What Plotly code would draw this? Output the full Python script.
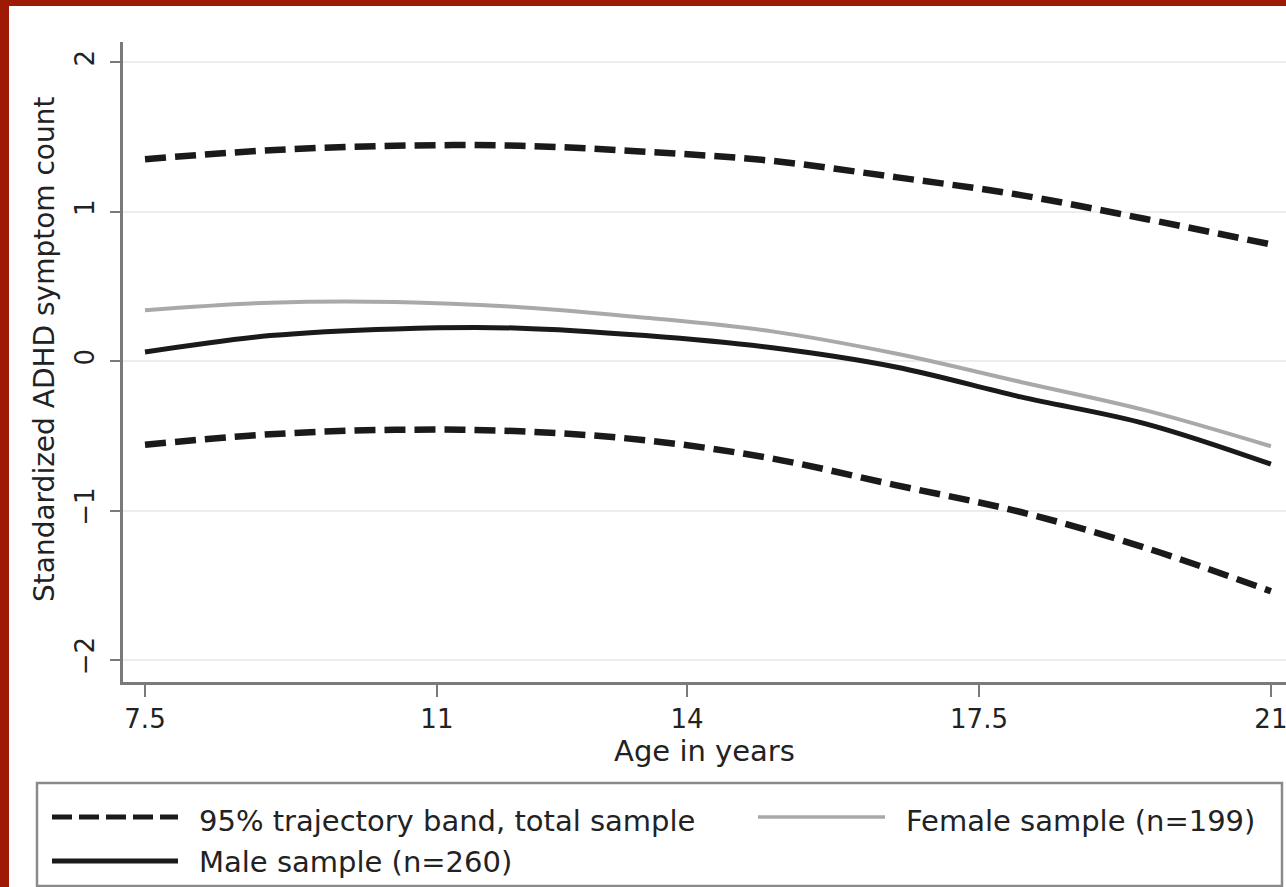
import plotly.graph_objects as go

# Estimated trajectories by age
age = [7.5, 9, 10.5, 12, 13.5, 15, 16.5, 18, 19.5, 21]
band_upper = [1.35, 1.41, 1.44, 1.44, 1.40, 1.34, 1.23, 1.11, 0.95, 0.78]
band_lower = [-0.56, -0.49, -0.46, -0.47, -0.53, -0.65, -0.83, -1.01, -1.25, -1.54]
female = [0.34, 0.39, 0.395, 0.36, 0.29, 0.20, 0.05, -0.14, -0.33, -0.57]
male = [0.06, 0.17, 0.215, 0.22, 0.17, 0.09, -0.04, -0.24, -0.42, -0.69]

x_ticks = [7.5, 11, 14, 17.5, 21]
x_tick_labels = ["7.5", "11", "14", "17.5", "21"]
y_ticks = [-2, -1, 0, 1, 2]
y_tick_labels = ["\u22122", "\u22121", "0", "1", "2"]

legend_labels = ["95% trajectory band, total sample", "Female sample (n=199)", "Male sample (n=260)"]

W, H = 1286, 887
ML, MR, MT, MB = 123, 0, 42, 205
PW, PH = W - ML - MR, H - MT - MB

FONT = "DejaVu Sans"
TXT = "#222222"
AXC = "#7a7a7a"
BLACK = "#1a1a1a"
GRAY = "#a9a9a9"
FRAME = "#9e1a04"


def px(x):
    return (x - ML) / PW


def py(y):
    return (H - MB - y) / PH


fig = go.Figure()

band_line = dict(color=BLACK, width=6.5, dash="21px,9px")
fig.add_trace(go.Scatter(x=age, y=band_upper, mode="lines", line=dict(band_line, shape="spline"),
                         showlegend=False, hoverinfo="skip"))
fig.add_trace(go.Scatter(x=age, y=band_lower, mode="lines", line=dict(band_line, shape="spline"),
                         showlegend=False, hoverinfo="skip"))
fig.add_trace(go.Scatter(x=age, y=female, mode="lines", line=dict(color=GRAY, width=4, shape="spline"),
                         showlegend=False, hoverinfo="skip"))
fig.add_trace(go.Scatter(x=age, y=male, mode="lines", line=dict(color=BLACK, width=5, shape="spline"),
                         showlegend=False, hoverinfo="skip"))

shapes = []
# dark red frame along the left and top edges
shapes.append(dict(type="rect", xref="paper", yref="paper", x0=px(0), x1=px(9), y0=py(H + 5), y1=py(-5),
                   fillcolor=FRAME, line=dict(width=0), layer="above"))
shapes.append(dict(type="rect", xref="paper", yref="paper", x0=px(0), x1=px(W + 5), y0=py(6), y1=py(-5),
                   fillcolor=FRAME, line=dict(width=0), layer="above"))

# legend box
shapes.append(dict(type="rect", xref="paper", yref="paper", x0=px(37), x1=px(1282), y0=py(886), y1=py(783),
                   fillcolor="white", line=dict(color="#8a8a8a", width=2.5), layer="above"))
# legend samples
shapes.append(dict(type="line", xref="paper", yref="paper", x0=px(52), x1=px(178), y0=py(817), y1=py(817),
                   line=dict(color=BLACK, width=5, dash="20px,7px"), layer="above"))
shapes.append(dict(type="line", xref="paper", yref="paper", x0=px(758), x1=px(885), y0=py(817), y1=py(817),
                   line=dict(color=GRAY, width=3.5), layer="above"))
shapes.append(dict(type="line", xref="paper", yref="paper", x0=px(52), x1=px(178), y0=py(861), y1=py(861),
                   line=dict(color=BLACK, width=5), layer="above"))

annotations = []
leg_font = dict(family=FONT, size=29, color=TXT)
annotations.append(dict(text=legend_labels[0], xref="paper", yref="paper", x=px(197), y=py(821),
                        xanchor="left", yanchor="middle", showarrow=False, font=leg_font))
annotations.append(dict(text=legend_labels[1], xref="paper", yref="paper", x=px(904), y=py(821),
                        xanchor="left", yanchor="middle", showarrow=False, font=leg_font))
annotations.append(dict(text=legend_labels[2], xref="paper", yref="paper", x=px(197), y=py(862),
                        xanchor="left", yanchor="middle", showarrow=False, font=leg_font))
# y-axis title
annotations.append(dict(text="Standardized ADHD symptom count", xref="paper", yref="paper",
                        x=px(44), y=py(350), xanchor="center", yanchor="middle", textangle=-90,
                        showarrow=False, font=dict(family=FONT, size=28, color=TXT)))

fig.update_layout(
    width=W, height=H,
    margin=dict(l=ML, r=MR, t=MT, b=MB, autoexpand=False),
    paper_bgcolor="white", plot_bgcolor="white",
    showlegend=False,
    shapes=shapes, annotations=annotations,
    font=dict(family=FONT, color=TXT),
)

fig.update_xaxes(
    range=[7.5 - 22 / 83.4, 7.5 + (W - 145) / 83.4],
    tickmode="array", tickvals=x_ticks, ticktext=x_tick_labels,
    ticks="outside", ticklen=12, tickwidth=2, tickcolor=AXC,
    showline=True, linecolor=AXC, linewidth=2.5,
    showgrid=False, zeroline=False,
    ticklabeloverflow="allow",
    tickfont=dict(family=FONT, size=26, color=TXT),
    title=dict(text="Age in years", font=dict(family=FONT, size=29, color=TXT), standoff=4),
)
fig.update_yaxes(
    range=[-2.147, 2.134],
    tickmode="array", tickvals=y_ticks, ticktext=y_tick_labels, tickangle=-90,
    ticks="outside", ticklen=10, tickwidth=2, tickcolor=AXC,
    showline=True, linecolor=AXC, linewidth=2.5,
    showgrid=True, gridcolor="#ededed", gridwidth=2,
    zeroline=False,
    tickfont=dict(family=FONT, size=26, color=TXT),
    ticklabelstandoff=6,
)

fig.write_html("out.html")
